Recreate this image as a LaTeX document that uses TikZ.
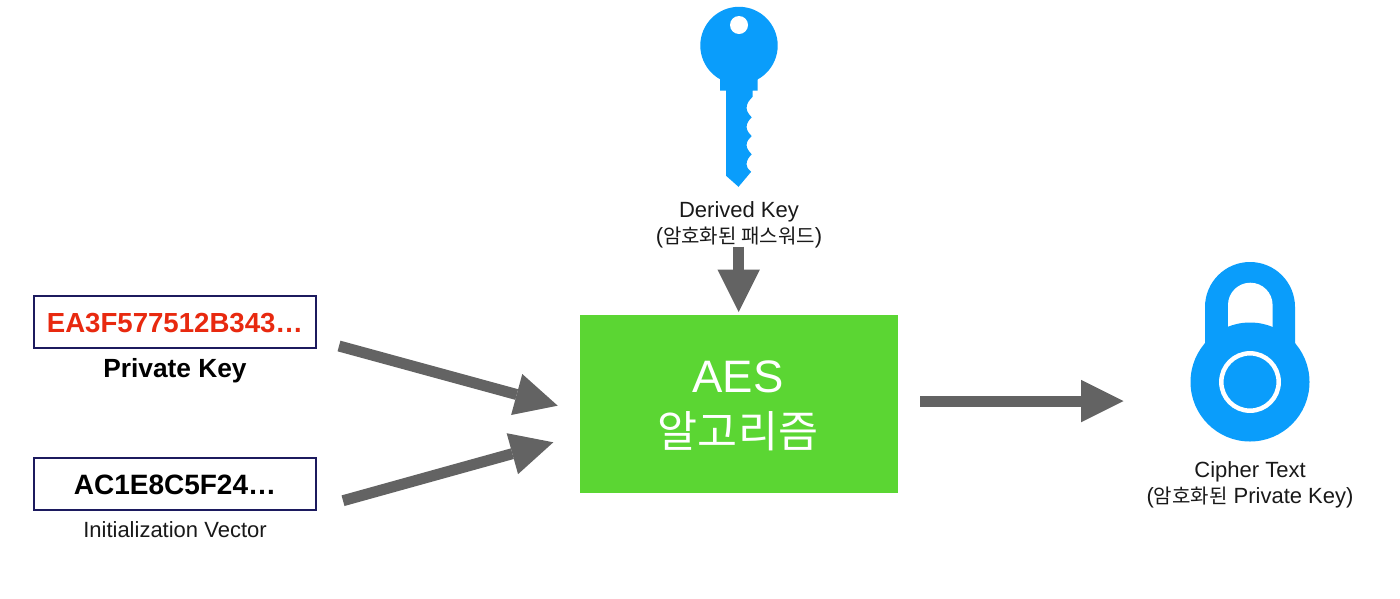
\documentclass[tikz,border=0pt]{standalone}
\usepackage{fontspec}
\setmainfont{Liberation Sans}
\newfontfamily\cjk[Scale=0.91]{Noto Sans CJK KR}
\newfontfamily\cjkbig{Noto Sans CJK KR}
\usetikzlibrary{arrows.meta}
\definecolor{iconblue}{HTML}{0A9DFB}
\definecolor{aesgreen}{HTML}{5BD633}
\definecolor{arrowgray}{HTML}{636363}
\definecolor{boxnavy}{HTML}{1C1A5E}
\definecolor{hexred}{HTML}{E8290F}
\tikzset{
  valuebox/.style={draw=boxnavy,line width=1.5pt,fill=white,minimum width=282pt,minimum height=52pt,inner sep=0pt},
  caption/.style={font=\fontsize{22}{25}\selectfont,align=center,inner sep=0pt,text=black!90},
  bigarrow/.style={draw=arrowgray,line width=11pt,-{Triangle[length=42.5pt,width=42.5pt,line width=0pt]}},
  icon/.style={fill=iconblue,draw=none}
}
\begin{document}
\begin{tikzpicture}[x=1pt,y=1pt,yscale=-1]
\useasboundingbox (0,0) rectangle (1400,598);
\fill[white] (0,0) rectangle (1400,598);
% key
\fill[icon] (739,45.5) circle (38.7);
\fill[icon] (720,70) -- (720,90.7) -- (726,90.7) -- (726,175.7) -- (738.5,186.8) -- (751.2,171.7)
  .. controls (748,169) and (746.3,167) .. (746.5,164.3)
  .. controls (746.7,160) and (749,157) .. (751.7,154.3)
  .. controls (748.5,151) and (746.5,148) .. (746.6,145)
  .. controls (746.7,141) and (749,138.5) .. (751.7,136)
  .. controls (748.5,133) and (746.5,130) .. (746.6,126.7)
  .. controls (746.7,123) and (749,120) .. (751.7,117.3)
  .. controls (748.5,114) and (746.5,111) .. (746.6,107.7)
  .. controls (746.7,103) and (749.5,100) .. (752.7,96.7)
  -- (752.7,90.7) -- (757.7,90.7) -- (757.7,70) -- cycle;
\fill[white] (739,25) circle (9);
% lock
\fill[icon] (1205,375) -- (1205,307) arc[start angle=180,end angle=360,radius=45] -- (1295,375) -- cycle;
\fill[white] (1228,340) -- (1228,305) arc[start angle=180,end angle=360,radius=22.3] -- (1272.6,340) -- cycle;
\fill[icon] (1250,382) circle (59.5);
\draw[white,line width=4.5pt] (1250,382) circle (28.7);
% boxes
\node[valuebox] (pkbox) at (175,322) {};
\node[inner sep=0pt,text=hexred,font=\bfseries\fontsize{27.6}{32}\selectfont] (pkval) at (175,323) {EA3F577512B343…};
\node[inner sep=0pt,font=\bfseries\fontsize{26.3}{30}\selectfont] (pklabel) at (175,370.5) {Private Key};
\node[valuebox] (ivbox) at (175,484) {};
\node[inner sep=0pt,font=\bfseries\fontsize{28}{32}\selectfont] (ivval) at (175,485) {AC1E8C5F24…};
\node[caption] (ivlabel) at (175,529.5) {Initialization Vector};
\node[fill=aesgreen,minimum width=318pt,minimum height=178pt,inner sep=0pt] (aes) at (739,404) {};
\node[inner sep=0pt,text=white,font=\fontsize{45.5}{50}\selectfont] (aestitle) at (738,377) {AES};
\node[inner sep=0pt,text=white,font=\cjkbig\fontsize{43.5}{50}\selectfont] (aesalgo) at (738,431.5) {알고리즘};
\node[caption] (dk) at (739,224.5) {Derived Key\\[1pt]({\cjk 암호화된 패스워드})};
\node[caption] (ct) at (1250,484.5) {Cipher Text\\[1pt]({\cjk 암호화된} Private Key)};
% connector ends
\coordinate (a1s) at (339,346);
\coordinate (a1e) at (557.7,405.7);
\coordinate (a2s) at (343,500.7);
\coordinate (a2e) at (553.3,442.3);
\coordinate (a3s) at (920,401);
\coordinate (a3e) at (1123.5,401);
\coordinate (a4s) at (738.7,246.7);
\coordinate (a4e) at (738.7,312);
\draw[bigarrow] (a1s) -- (a1e);
\draw[bigarrow] (a2s) -- (a2e);
\draw[bigarrow] (a3s) -- (a3e);
\draw[bigarrow] (a4s) -- (a4e);
\end{tikzpicture}
\end{document}
